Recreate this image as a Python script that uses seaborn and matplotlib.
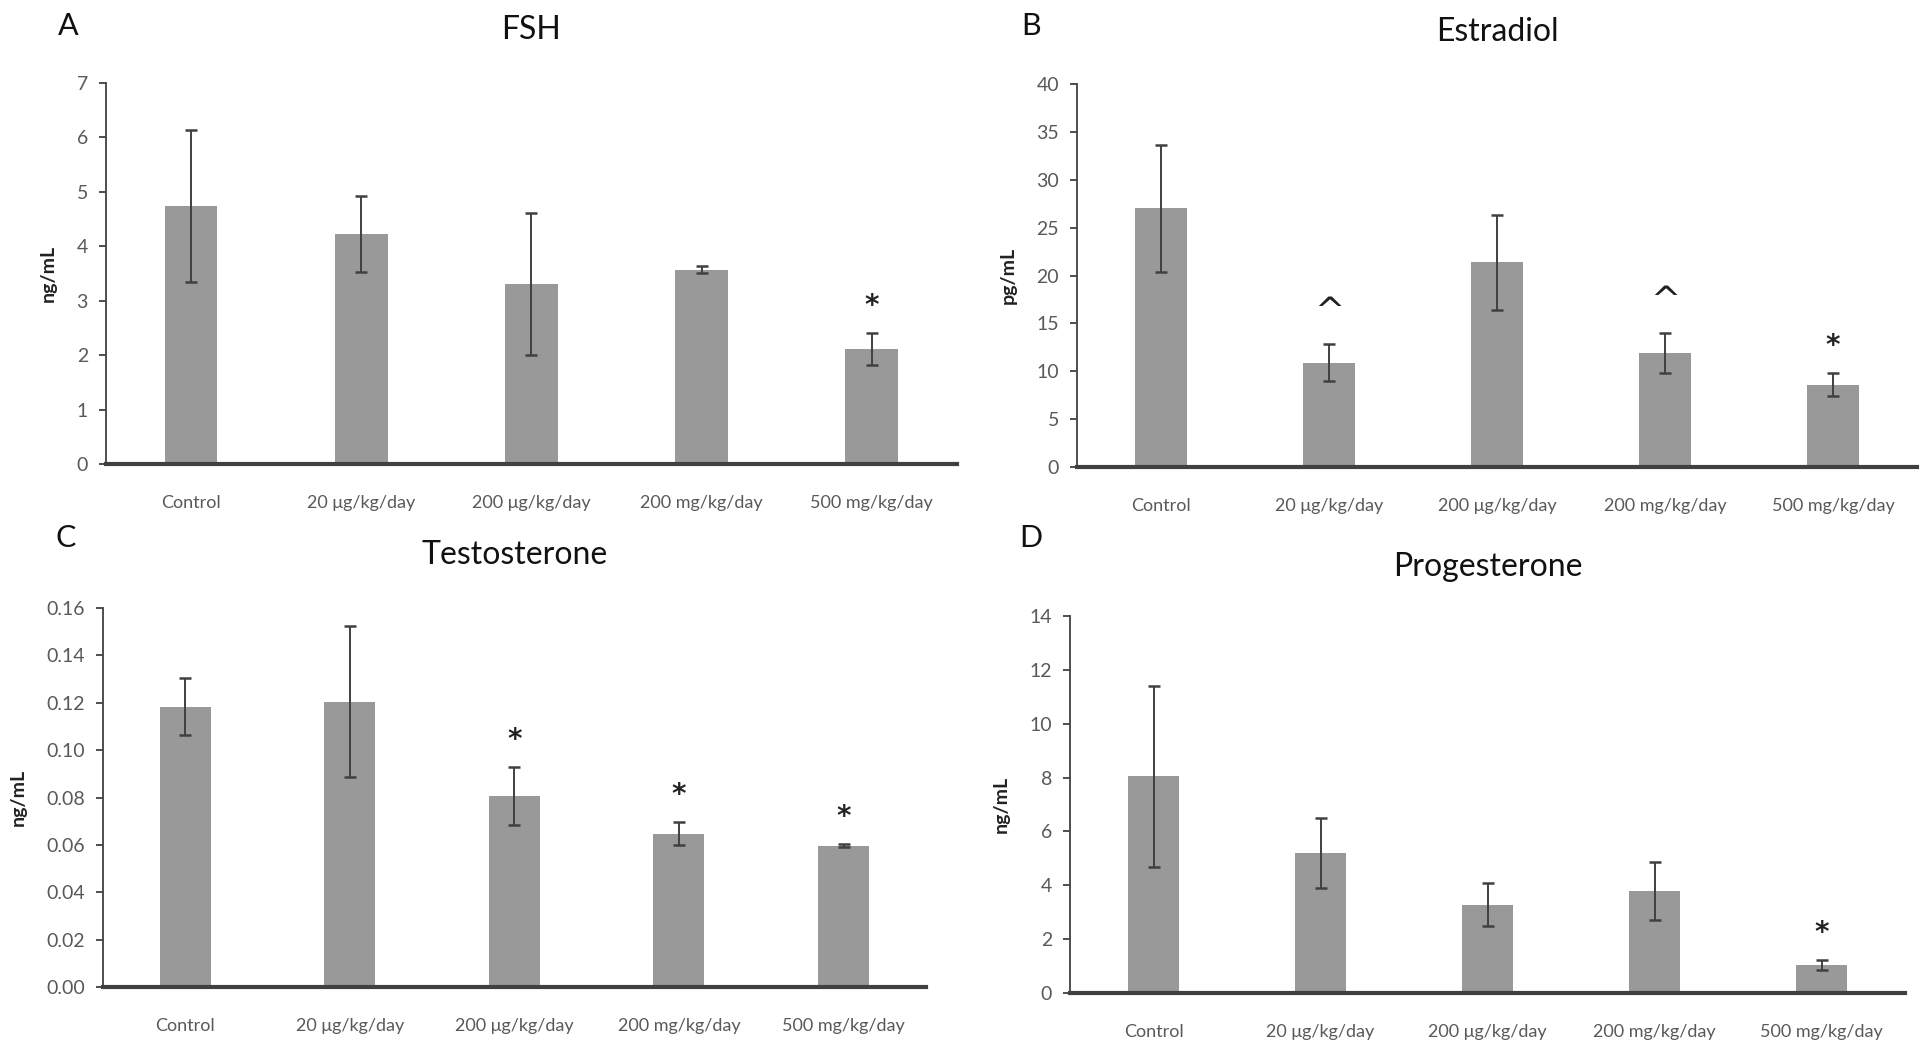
import numpy as np
import pandas as pd
import matplotlib
matplotlib.use("Agg")
import matplotlib.pyplot as plt
import seaborn as sns

sns.set_theme(style="white")
plt.rcParams['font.family'] = ['Liberation Sans Narrow', 'Lato', 'DejaVu Sans']

categories = ["Control", "20 μg/kg/day", "200 μg/kg/day", "200 mg/kg/day", "500 mg/kg/day"]

fsh_mean = [4.74, 4.22, 3.31, 3.57, 2.11]
fsh_err = [1.40, 0.70, 1.31, 0.06, 0.29]
fsh_marks = ["", "", "", "", "*"]

estradiol_mean = [27.0, 10.9, 21.4, 11.9, 8.6]
estradiol_err = [6.6, 1.9, 4.95, 2.1, 1.2]
estradiol_marks = ["", "^", "", "^", "*"]

testo_mean = [0.1184, 0.1205, 0.0806, 0.0648, 0.0597]
testo_err = [0.0120, 0.0320, 0.0123, 0.0047, 0.0006]
testo_marks = ["", "", "*", "*", "*"]

prog_mean = [8.05, 5.18, 3.28, 3.78, 1.04]
prog_err = [3.36, 1.30, 0.80, 1.08, 0.19]
prog_marks = ["", "", "", "", "*"]

panels = [
    dict(letter="A", title="FSH", ylabel="ng/mL", mean=fsh_mean, err=fsh_err, marks=fsh_marks,
         ylim=(0, 7), step=1, fmt="{:.0f}", rect=[0.0552, 0.5577, 0.4432, 0.3632],
         title_y=30, letter_xy=(68, 26)),
    dict(letter="B", title="Estradiol", ylabel="pg/mL", mean=estradiol_mean, err=estradiol_err,
         marks=estradiol_marks, ylim=(0, 40), step=5, fmt="{:.0f}", rect=[0.561, 0.5548, 0.4375, 0.3651],
         title_y=32, letter_xy=(1031, 26)),
    dict(letter="C", title="Testosterone", ylabel="ng/mL", mean=testo_mean, err=testo_err,
         marks=testo_marks, ylim=(0, 0.16), step=0.02, fmt="{:.2f}", rect=[0.0536, 0.0591, 0.4286, 0.3613],
         title_y=555, letter_xy=(66, 538)),
    dict(letter="D", title="Progesterone", ylabel="ng/mL", mean=prog_mean, err=prog_err,
         marks=prog_marks, ylim=(0, 14), step=2, fmt="{:.0f}", rect=[0.5573, 0.0534, 0.4349, 0.3594],
         title_y=567, letter_xy=(1031, 538)),
]

W, H = 1920, 1049
fig = plt.figure(figsize=(W / 100, H / 100), dpi=100)
fig.patch.set_facecolor("white")

bar_color = "#999999"
dark = "#404040"
tick_color = "#595959"

for p in panels:
    ax = fig.add_axes(p["rect"])
    df = pd.DataFrame({"group": categories, "value": p["mean"]})
    sns.barplot(data=df, x="group", y="value", color=bar_color, width=0.31,
                saturation=1, errorbar=None, ax=ax, edgecolor="none")
    pos = np.arange(len(categories))
    ax.errorbar(pos, p["mean"], yerr=p["err"], fmt="none", ecolor=dark,
                elinewidth=1.4, capsize=4, capthick=1.8, zorder=3)
    ymax = p["ylim"][1]
    for i, m in enumerate(p["marks"]):
        if m:
            top = p["mean"][i] + p["err"][i]
            if m == "*":
                ax.text(pos[i], top + ymax * 0.035, m, ha="center", va="bottom",
                        fontsize=20, fontweight="bold", color="#222222", family=["DejaVu Sans"])
            else:
                ax.text(pos[i], top + ymax * 0.04, m, ha="center", va="bottom",
                        fontsize=26, color="#222222", family=["DejaVu Sans"])
    ax.set_xlim(-0.5, len(categories) - 0.5)
    ax.set_ylim(*p["ylim"])
    ticks = np.arange(0, ymax + p["step"] / 2, p["step"])
    ax.set_yticks(ticks)
    ax.set_yticklabels([p["fmt"].format(t) for t in ticks])
    ax.set_xlabel("")
    ax.set_ylabel(p["ylabel"], fontsize=14, fontweight="bold", color="#222222", labelpad=14)
    for s in ["top", "right"]:
        ax.spines[s].set_visible(False)
    ax.spines["left"].set_color(dark)
    ax.spines["left"].set_linewidth(1.3)
    ax.spines["bottom"].set_color(dark)
    ax.spines["bottom"].set_linewidth(3)
    ax.tick_params(axis="y", which="major", direction="out", length=5, width=1.3,
                   color=dark, labelsize=14, labelcolor=tick_color, pad=8, left=True)
    ax.tick_params(axis="x", length=0, labelsize=13, labelcolor=tick_color, pad=22)
    ax.set_facecolor("white")
    ax.grid(False)
    cx = (p["rect"][0] + p["rect"][2] / 2)
    fig.text(cx, 1 - p["title_y"] / H, p["title"], ha="center", va="center",
             fontsize=23, color="#111111")
    lx, ly = p["letter_xy"]
    fig.text(lx / W, 1 - ly / H, p["letter"], ha="center", va="center",
             fontsize=22, color="#111111")

fig.savefig("out.png", dpi=100, facecolor="white")
